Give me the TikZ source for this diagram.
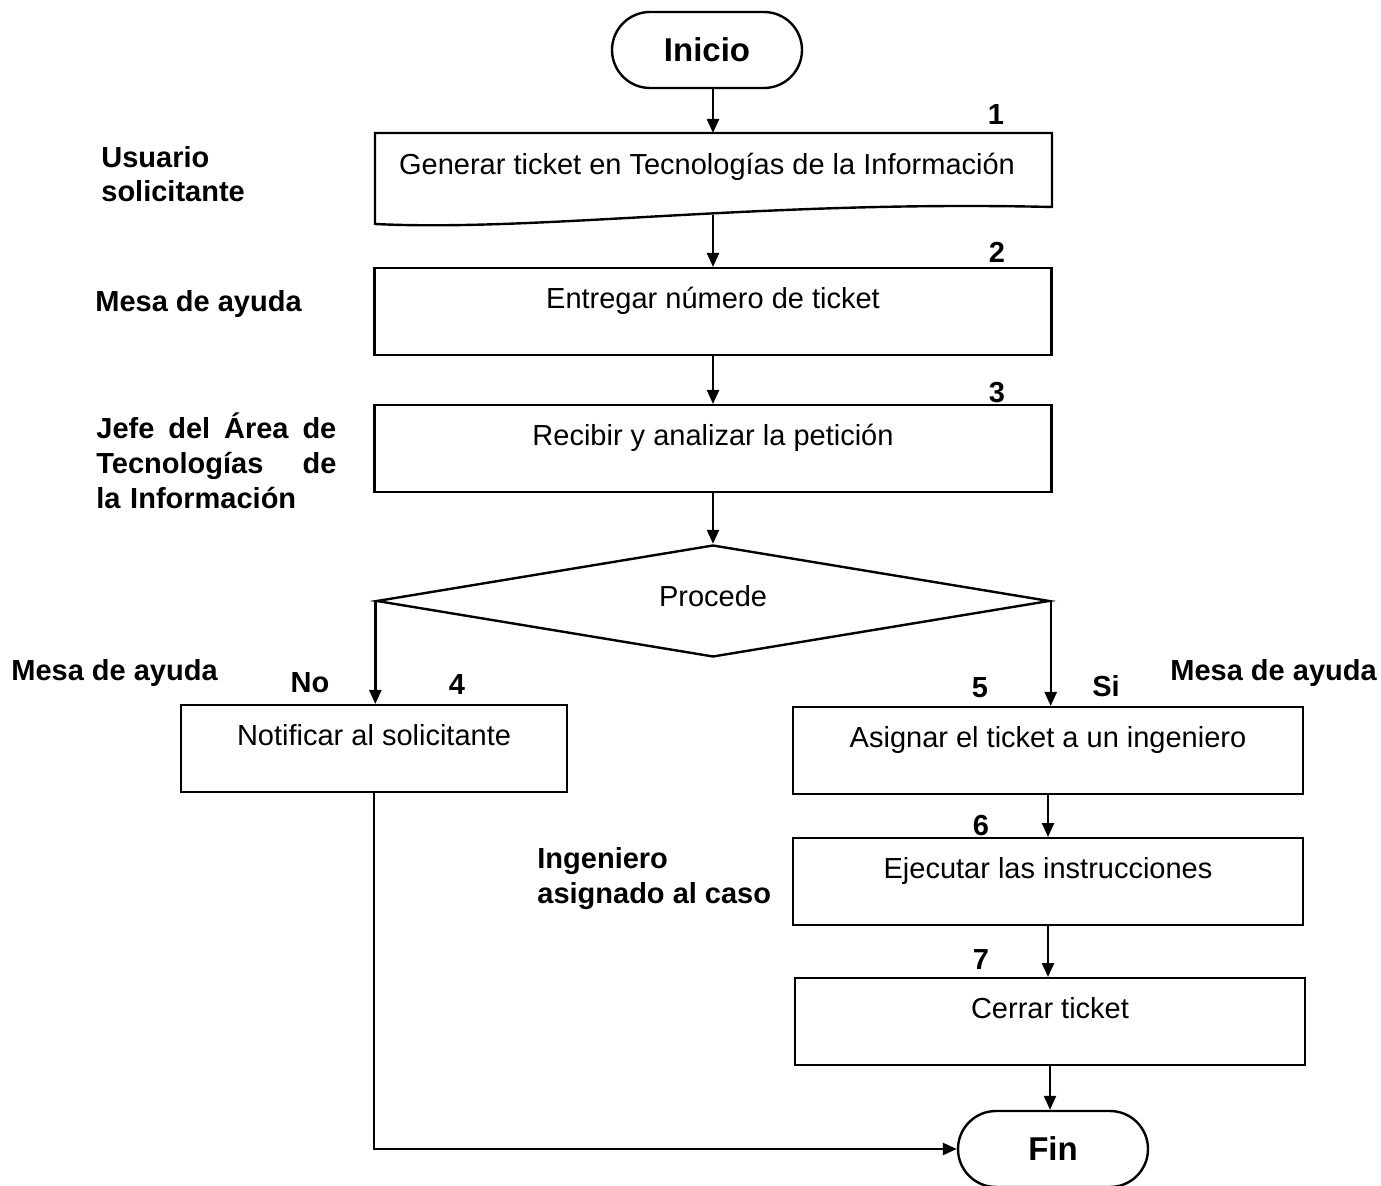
\documentclass[tikz,border=0pt]{standalone}
\usepackage{fontspec}
\setmainfont{Liberation Sans}
\usetikzlibrary{arrows.meta,shapes.geometric,shapes.misc}
\begin{document}
\begin{tikzpicture}[x=0.5pt,y=-0.5pt,
  txt/.style={font=\fontsize{14.5}{17.4}\selectfont, inner sep=0pt},
  bold/.style={font=\bfseries\fontsize{14.5}{17.4}\selectfont, inner sep=0pt},
  lane/.style={bold, align=left, anchor=base west},
  num/.style={bold},
  proc/.style={draw, line width=1.2pt, rectangle, inner sep=0pt, anchor=north,
    text height=20pt, text depth=23.5pt, font=\fontsize{14.5}{17.4}\selectfont},
  term/.style={draw, line width=1.2pt, rounded rectangle, minimum width=95pt,
    minimum height=38pt, inner sep=0pt, font=\bfseries\fontsize{16.5}{20}\selectfont},
  flow/.style={line width=1.2pt},
  arr/.style={line width=1.2pt, -{Triangle[length=7pt,width=6pt]}}
]
\useasboundingbox (0,0) rectangle (1381,1186);

% start terminal
\node[term] (ini) at (707,50) {Inicio};

% step 1: document-shaped box with a wavy lower edge
\node[minimum width=338.5pt, minimum height=40.5pt, inner sep=0pt, anchor=north] (b1) at (713,133) {};
\draw[flow] (375,133) -- (1052,133) -- (1052,207)
  .. controls (760,200) and (540,232) .. (375,224) -- cycle;
\node[txt, anchor=base] (t1) at (707,175) {Generar ticket en Tecnologías de la Información};

% steps 2 and 3
\node[proc, minimum width=338.5pt] (b2) at (713,267) {Entregar número de ticket};
\node[proc, minimum width=338.5pt] (b3) at (713,404) {Recibir y analizar la petición};

% decision
\node[draw, diamond, line width=1.2pt, minimum width=336.5pt, minimum height=56pt, inner sep=0pt] (dec) at (713,601) {};
\node[txt] (dtx) at (713,596) {Procede};

% branches
\node[proc, minimum width=193pt] (b4) at (374,704) {Notificar al solicitante};
\node[proc, minimum width=255pt] (b5) at (1048,706) {Asignar el ticket a un ingeniero};
\node[proc, minimum width=255pt] (b6) at (1048,837) {Ejecutar las instrucciones};
\node[proc, minimum width=255pt] (b7) at (1050,977) {Cerrar ticket};

% end terminal
\node[term] (fin) at (1053,1149) {Fin};

% step numbers
\node[num] (n1) at (996,115) {1};
\node[num] (n2) at (997,252) {2};
\node[num] (n3) at (997,393) {3};
\node[num] (n4) at (457,685) {4};
\node[num] (n5) at (980,688) {5};
\node[num] (n6) at (981,826) {6};
\node[num] (n7) at (981,960) {7};
\node[num] (no) at (310,683) {No};
\node[num] (si) at (1106,686) {Si};

% responsible roles
\node[lane] (r1) at (101,202) {Usuario\\solicitante};
\node[lane] (r2) at (95,312) {Mesa de ayuda};
\node[lane, text width=120pt] (r3) at (96,439) {Jefe\hfill del\hfill Área\hfill de\\Tecnologías\hfill de\\la Información};
\node[lane] (r4) at (11,681) {Mesa de ayuda};
\node[lane] (r5) at (1170,681) {Mesa de ayuda};
\node[lane] (r6) at (537,903) {Ingeniero\\asignado al caso};

% connectors
\draw[arr] (ini.south -| b1.north) -- (b1.north);
\draw[arr] (b1.south) -- (b2.north);
\draw[arr] (b2.south) -- (b3.north);
\draw[arr] (b3.south) -- (dec.north);
\draw[arr] (dec.west) -- (dec.west |- b4.north);
\draw[arr] (dec.east) -- (dec.east |- b5.north);
\draw[arr] (b5.south) -- (b6.north);
\draw[arr] (b6.south) -- (b6.south |- b7.north);
\draw[arr] (b7.south) -- (b7.south |- fin.north);
\draw[arr] (b4.south) |- (fin.west);
\end{tikzpicture}
\end{document}
